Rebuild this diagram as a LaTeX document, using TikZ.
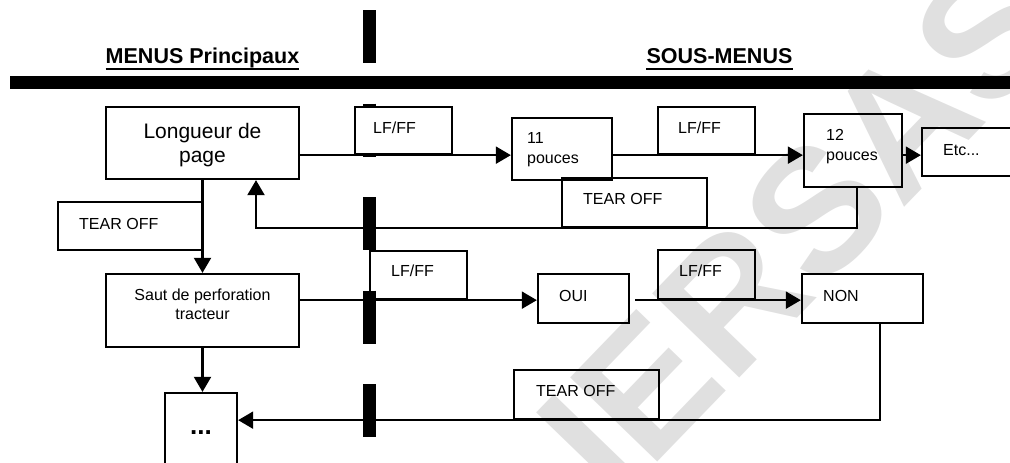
\documentclass[tikz,border=0pt]{standalone}
\usepackage{fontspec}
\setmainfont{Liberation Sans}
\usetikzlibrary{arrows.meta}

\begin{document}
\begin{tikzpicture}[x=1pt, y=-1pt,
  box/.style={draw, line width=2.3pt, inner sep=0pt},
  lbl/.style={inner sep=0pt, anchor=base west, align=left, font=\fontsize{16}{20}\selectfont},
  big/.style={inner sep=0pt, anchor=base, align=center, font=\fontsize{21}{24}\selectfont},
  head/.style={inner sep=0pt, anchor=base, font=\bfseries\fontsize{21.5}{26}\selectfont},
  flow/.style={line width=2.1pt, -{Triangle[length=15pt, width=17pt]}},
  sepbar/.style={line width=13pt}]

\useasboundingbox (0,0) rectangle (1010,463);
\clip (0,0) rectangle (1010,463);

% watermark
\node[text=black!12, font=\bfseries\fontsize{176}{176}\selectfont, rotate=46] (wm) at (800,228) {IERSAS};

% separators
\draw[sepbar] (10,82.5) -- (1010,82.5);
\draw[sepbar, dash pattern=on 53pt off 40.5pt] (369,10) -- (369,437);

% headings
\node[head] (hd-main) at (202.5,63) {MENUS Principaux};
\node[head] (hd-sub) at (719.5,63) {SOUS-MENUS};
\draw[line width=2pt] ([yshift=-6pt]hd-main.base west) -- ([yshift=-6pt]hd-main.base east);
\draw[line width=2pt] ([yshift=-6pt]hd-sub.base west) -- ([yshift=-6pt]hd-sub.base east);

% boxes
\node[box, minimum width=193, minimum height=72] (lon) at (202.5,143) {};
\node[box, fill=white, minimum width=97, minimum height=47] (lf1) at (403.5,130.5) {};
\node[box, minimum width=100, minimum height=62] (p11) at (562,149) {};
\node[box, minimum width=97, minimum height=47] (lf2) at (706.5,130.5) {};
\node[box, minimum width=98, minimum height=73] (p12) at (853,150.5) {};
\node[box, minimum width=96, minimum height=48] (etc) at (970,152) {};
\node[box, minimum width=145, minimum height=49] (tear1) at (634.5,202.5) {};
\node[box, minimum width=144, minimum height=48] (tearL) at (130,226) {};
\node[box, minimum width=193, minimum height=73] (saut) at (202.5,310.5) {};
\node[box, minimum width=97, minimum height=48] (lf3) at (418.5,275) {};
\node[box, minimum width=91, minimum height=49] (oui) at (583.5,298.5) {};
\node[box, minimum width=97, minimum height=49] (lf4) at (706.5,274.5) {};
\node[box, minimum width=121, minimum height=49] (non) at (862.5,298.5) {};
\node[box, minimum width=145, minimum height=49] (tear3) at (586.5,394.5) {};
\node[box, minimum width=72, minimum height=80, font=\bfseries\fontsize{26}{30}\selectfont] (dots) at (201,433) {...};

% connectors
\draw[flow] (lon.east |- lf1.south) -- (p11.west |- lf1.south);
\draw[flow] (p11.east |- lf2.south) -- (p12.west |- lf2.south);
\draw[flow] (p12.east |- lf2.south) -- (etc.west |- lf2.south);
\draw[flow] ([xshift=4pt]p12.south) |- (tear1.south) -| ([xshift=53.5pt]lon.south);
\draw[flow] (lon.south) -- (saut.north);
\draw[flow] (saut.east |- lf3.south) -- (oui.west |- lf3.south);
\draw[flow] ([xshift=5pt]oui.east |- lf4.south) -- (non.west |- lf4.south);
\draw[flow] ([xshift=17.5pt]non.south) |- (dots.east |- tear3.south);
\draw[flow] (saut.south) -- (saut.south |- dots.north);

% texts (base = last line)
\node[big] (t-lon) at (202.5,162) {Longueur de\\page};
\node[big, font=\fontsize{16}{19}\selectfont] (t-saut) at (202.5,319) {Saut de perforation\\tracteur};
\node[lbl] (t-lf1) at (373,133) {LF/FF};
\node[lbl] (t-p11) at (527,163) {11\\pouces};
\node[lbl] (t-lf2) at (678,133) {LF/FF};
\node[lbl] (t-p12) at (826,160) {12\\pouces};
\node[lbl] (t-etc) at (943,155) {Etc...};
\node[lbl] (t-tear1) at (583,204) {TEAR OFF};
\node[lbl] (t-tearL) at (79,229) {TEAR OFF};
\node[lbl] (t-lf3) at (391,276) {LF/FF};
\node[lbl] (t-oui) at (559,301) {OUI};
\node[lbl] (t-lf4) at (679,276) {LF/FF};
\node[lbl] (t-non) at (823,301) {NON};
\node[lbl] (t-tear3) at (536,396) {TEAR OFF};
\end{tikzpicture}
\end{document}
